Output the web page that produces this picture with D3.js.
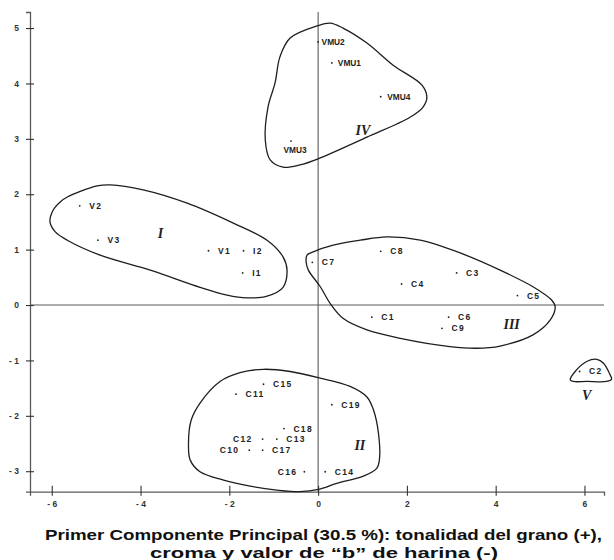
<!DOCTYPE html>
<html><head><meta charset="utf-8">
<script src="https://cdn.jsdelivr.net/npm/d3@7"></script>
<style>
body{margin:0;background:#fff;}
svg{display:block;}
</style></head>
<body><svg id="c" width="614" height="560"></svg>
<script>
// ---- data ----
const pointNames = ["VMU1","VMU2","VMU3","VMU4","V1","V2","V3","I1","I2",
  "C1","C2","C3","C4","C5","C6","C7","C8","C9",
  "C10","C11","C12","C13","C14","C15","C16","C17","C18","C19"];
const pointX = [0.31,0.0,-0.61,1.41,-2.47,-5.37,-4.96,-1.70,-1.68,
  1.21,5.89,3.12,1.88,4.49,2.94,-0.13,1.41,2.79,
  -1.55,-1.85,-1.25,-0.93,0.16,-1.23,-0.31,-1.25,-0.77,0.31];
const pointY = [4.37,4.75,2.96,3.76,0.98,1.79,1.17,0.58,0.98,
  -0.22,-1.20,0.58,0.38,0.17,-0.22,0.77,0.97,-0.42,
  -2.62,-1.61,-2.42,-2.42,-3.01,-1.43,-3.01,-2.62,-2.23,-1.80];

const xTicks = [-6,-4,-2,0,2,4,6];
const yTicks = [-3,-2,-1,0,1,2,3,4,5];
const xTickLabels = ["- 6","- 4","- 2","0","2","4","6"];
const yTickLabels = ["- 3","- 2","- 1","0","1","2","3","4","5"];

const groupNames = ["I","II","III","IV","V"];
const groupLabelX = [-3.55,0.94,4.36,1.01,6.05];
const groupLabelY = [1.29,-2.52,-0.34,3.15,-1.62];

const hullI = [[-6.04,1.50],[-5.97,1.71],[-5.81,1.86],[-5.65,1.95],[-4.98,2.15],[-4.68,2.17],[-3.94,2.08],[-2.95,1.84],[-1.91,1.48],[-1.15,1.17],[-0.79,0.87],[-0.70,0.63],[-0.79,0.32],[-1.15,0.16],[-1.60,0.13],[-2.05,0.18],[-2.66,0.32],[-3.78,0.63],[-4.91,0.90],[-5.65,1.17],[-5.92,1.32]];
const hullII = [[-2.92,-2.50],[-2.88,-2.80],[-2.66,-3.01],[-2.13,-3.16],[-1.53,-3.27],[-0.93,-3.34],[-0.41,-3.37],[0.01,-3.33],[0.42,-3.22],[1.02,-3.09],[1.32,-2.95],[1.38,-2.80],[1.36,-2.32],[1.25,-1.90],[1.10,-1.66],[0.72,-1.47],[0.05,-1.32],[-0.63,-1.20],[-1.23,-1.16],[-1.76,-1.22],[-2.21,-1.38],[-2.66,-1.77],[-2.86,-2.08]];
const hullIII = [[-0.25,0.90],[-0.11,0.96],[0.34,1.08],[0.95,1.17],[1.55,1.23],[2.30,1.17],[3.20,0.94],[4.10,0.63],[4.84,0.33],[5.26,0.09],[5.34,-0.03],[5.23,-0.27],[4.84,-0.54],[4.10,-0.74],[3.57,-0.78],[2.97,-0.75],[1.85,-0.60],[1.10,-0.45],[0.56,-0.24],[0.27,0.03],[0.05,0.33],[-0.22,0.63],[-0.27,0.78]];
const hullIV = [[-0.02,5.04],[-0.63,4.82],[-0.86,4.48],[-0.97,4.01],[-1.13,3.57],[-1.19,2.98],[-1.08,2.62],[-0.79,2.49],[-0.41,2.53],[0,2.64],[1.10,3.03],[2.07,3.39],[2.36,3.57],[2.45,3.75],[2.34,3.97],[1.69,4.33],[1.10,4.73],[0.56,5.00],[0.27,5.09]];
const hullV = [[5.68,-1.35],[5.79,-1.20],[6.05,-1.02],[6.28,-0.98],[6.43,-1.05],[6.56,-1.23],[6.61,-1.34],[6.50,-1.38],[6.05,-1.38],[5.75,-1.38]];

const titleLines = ["Primer Componente Principal (30.5 %): tonalidad del grano (+),",
  "croma y valor de \u201cb\u201d de harina (-)"];

// ---- drawing ----
const svg = d3.select("#c");
const x = d3.scaleLinear().domain([-6.49,6.44]).range([30,604]);
const y = d3.scaleLinear().domain([-3.37,5.29]).range([491.7,12]);
const axisColor = "#5a5a5a";

// center cross lines
svg.append("line").attr("x1",x(-6.49)).attr("x2",x(6.44)).attr("y1",y(0)).attr("y2",y(0))
  .attr("stroke",axisColor).attr("stroke-width",1.1);
svg.append("line").attr("x1",x(0)).attr("x2",x(0)).attr("y1",y(5.29)).attr("y2",y(-3.37))
  .attr("stroke",axisColor).attr("stroke-width",1.1);

// axes
const gx = svg.append("g").attr("transform",`translate(0,${y(-3.37)})`)
  .call(d3.axisBottom(x).tickValues(xTicks).tickSizeOuter(0).tickSize(4)
    .tickFormat((d,i)=>xTickLabels[i]));
gx.select(".domain").attr("stroke",axisColor).attr("stroke-width",1.3);
gx.selectAll(".tick line").attr("y1",-6).attr("y2",4).attr("stroke","#333").attr("stroke-width",1.1);
gx.selectAll(".tick text").attr("y",9).attr("font-family","Liberation Sans, Arial, sans-serif")
  .attr("font-size",8.5).attr("font-weight","bold").attr("fill","#333");

const gy = svg.append("g").attr("transform",`translate(${x(-6.49)},0)`)
  .call(d3.axisLeft(y).tickValues(yTicks).tickSizeOuter(0).tickSize(4)
    .tickFormat((d,i)=>yTickLabels[i]));
gy.select(".domain").attr("stroke",axisColor).attr("stroke-width",1.3);
gy.selectAll(".tick line").attr("x1",-4).attr("x2",4).attr("stroke","#333").attr("stroke-width",1.1);
gy.selectAll(".tick text").attr("x",-11).attr("font-family","Liberation Sans, Arial, sans-serif")
  .attr("font-size",8.5).attr("font-weight","bold").attr("fill","#333");
svg.selectAll(".domain").attr("fill","none");

// hulls
const line = d3.line().x(d=>x(d[0])).y(d=>y(d[1])).curve(d3.curveCatmullRomClosed.alpha(0.5));
[hullI,hullII,hullIII,hullIV,hullV].forEach(h=>{
  svg.append("path").attr("d",line(h)).attr("fill","none")
    .attr("stroke","#1e1e1e").attr("stroke-width",1.3);
});

// points
const pts = pointNames.map((n,i)=>({n,x:pointX[i],y:pointY[i]}));
svg.selectAll("circle.pt").data(pts).enter().append("circle").attr("class","pt")
  .attr("cx",d=>x(d.x)).attr("cy",d=>y(d.y)).attr("r",0.9).attr("fill","#222");

const leftLabels = {"C10":10,"C12":10,"C16":7};
const labelGap = {"VMU1":6,"VMU2":3.5,"VMU4":6.5};
svg.selectAll("text.pl").data(pts).enter().append("text").attr("class","pl")
  .attr("font-family","Liberation Sans, Arial, sans-serif")
  .attr("font-weight","bold")
  .attr("font-size",d=>d.n.startsWith("VMU")?8.3:8.5)
  .attr("letter-spacing",d=>d.n.startsWith("VMU")?0:1.3)
  .attr("fill","#222")
  .attr("dy","0.35em")
  .attr("text-anchor",d=>d.n==="VMU3"?"middle":(leftLabels[d.n]?"end":"start"))
  .attr("x",d=>{
    const px = x(d.x);
    if(d.n==="VMU3") return px+4;
    if(leftLabels[d.n]) return px-leftLabels[d.n];
    return px+(labelGap[d.n]!==undefined?labelGap[d.n]:9.5);
  })
  .attr("y",d=>y(d.y)+(d.n==="VMU3"?9:0))
  .text(d=>d.n);

// group labels
svg.selectAll("text.gl").data(groupNames).enter().append("text").attr("class","gl")
  .attr("x",(d,i)=>x(groupLabelX[i])).attr("y",(d,i)=>y(groupLabelY[i]))
  .attr("dy","0.35em").attr("text-anchor","middle")
  .attr("font-family","Liberation Serif, Times New Roman, serif")
  .attr("font-style","italic").attr("font-weight","bold").attr("font-size",14)
  .attr("fill","#222").text(d=>d);

// title
const titleWidths = [557,348];
svg.selectAll("text.tt").data(titleLines).enter().append("text").attr("class","tt")
  .attr("x",(d,i)=>[323.5,324][i]-titleWidths[i]/2).attr("y",(d,i)=>[540,557.5][i])
  .attr("textLength",(d,i)=>titleWidths[i])
  .attr("lengthAdjust","spacingAndGlyphs")
  .attr("font-family","Liberation Sans, Arial, sans-serif").attr("font-weight","bold")
  .attr("font-size",15.5).attr("fill","#111").text(d=>d);
</script></body></html>
